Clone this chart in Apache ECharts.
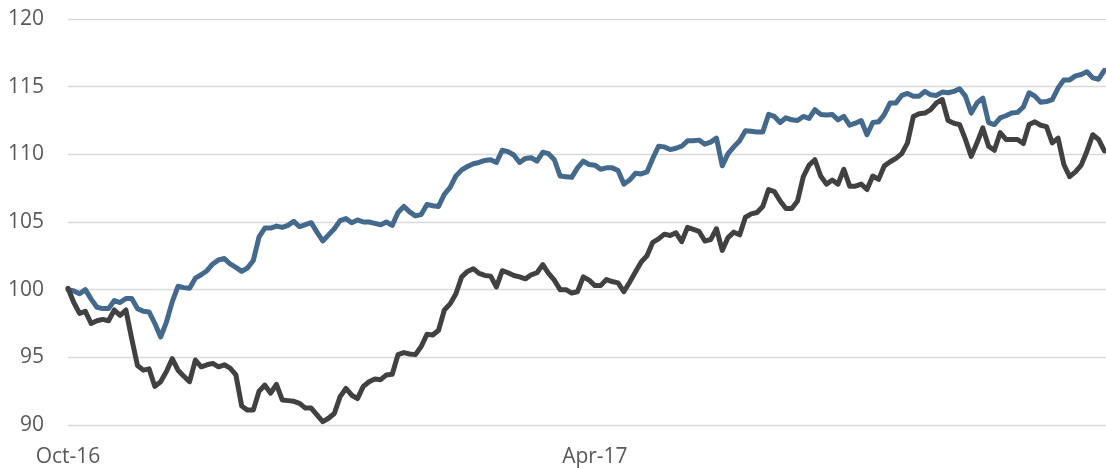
<!DOCTYPE html>
<html>
<head>
<meta charset="utf-8">
<script src="https://cdn.jsdelivr.net/npm/echarts@6/dist/echarts.min.js"></script>
<style>
  html, body { margin: 0; padding: 0; background: #fff; }
  #chart { width: 1106px; height: 468px; }
</style>
</head>
<body>
<div id="chart"></div>
<script>
  // x labels, one every 91 samples
  const tickLabels = ['Oct-16', 'Apr-17'];
  const labelStep = 91;

  const blueValues = [
    100.0, 99.9, 99.7, 100.0, 99.3, 98.7, 98.6, 98.6, 99.2, 99.05,
    99.35, 99.35, 98.6, 98.4, 98.35, 97.5, 96.5, 97.6, 99.1, 100.25,
    100.15, 100.1, 100.85, 101.1, 101.4, 101.9, 102.2, 102.3, 101.9, 101.65,
    101.35, 101.6, 102.15, 103.9, 104.55, 104.55, 104.7, 104.6, 104.75, 105.05,
    104.65, 104.8, 104.95, 104.25, 103.6, 104.05, 104.5, 105.1, 105.25, 104.95,
    105.15, 105.0, 105.0, 104.9, 104.8, 105.0, 104.75, 105.7, 106.15, 105.75,
    105.45, 105.55, 106.3, 106.2, 106.15, 107.05, 107.55, 108.4, 108.85, 109.1,
    109.3, 109.4, 109.55, 109.6, 109.4, 110.3, 110.2, 109.95, 109.4, 109.7,
    109.75, 109.5, 110.15, 110.05, 109.6, 108.4, 108.35, 108.3, 109.0, 109.5,
    109.25, 109.2, 108.9, 109.0, 109.0, 108.8, 107.8, 108.1, 108.6, 108.55,
    108.7, 109.7, 110.6, 110.55, 110.35, 110.45, 110.6, 111.0, 111.0, 111.05,
    110.75, 110.9, 111.2, 109.15, 110.05, 110.55, 111.0, 111.75, 111.7, 111.65,
    111.65, 112.95, 112.8, 112.35, 112.7, 112.55, 112.5, 112.8, 112.65, 113.3,
    112.95, 112.9, 112.95, 112.55, 112.8, 112.15, 112.3, 112.5, 111.45, 112.35,
    112.4, 112.95, 113.8, 113.8, 114.35, 114.5, 114.3, 114.3, 114.65, 114.4,
    114.35, 114.6, 114.55, 114.65, 114.85, 114.3, 113.05, 113.8, 114.15, 112.35,
    112.2, 112.7, 112.85, 113.05, 113.1, 113.5, 114.55, 114.3, 113.85, 113.9,
    114.05, 114.9, 115.5, 115.5, 115.8, 115.9, 116.1, 115.65, 115.55, 116.2
  ];
  const grayValues = [
    100.1, 99.05, 98.25, 98.4, 97.5, 97.7, 97.8, 97.7, 98.5, 98.1,
    98.5, 96.4, 94.4, 94.05, 94.15, 92.85, 93.2, 93.95, 94.9, 94.05,
    93.6, 93.2, 94.8, 94.3, 94.45, 94.55, 94.3, 94.45, 94.2, 93.7,
    91.4, 91.1, 91.1, 92.5, 92.95, 92.35, 93.0, 91.85, 91.8, 91.75,
    91.6, 91.25, 91.25, 90.75, 90.25, 90.5, 90.85, 92.1, 92.7, 92.2,
    91.95, 92.85, 93.2, 93.4, 93.35, 93.7, 93.75, 95.2, 95.35, 95.25,
    95.2, 95.8, 96.7, 96.65, 97.0, 98.5, 98.95, 99.7, 100.95, 101.35,
    101.55, 101.2, 101.05, 101.0, 100.2, 101.4, 101.25, 101.05, 100.95, 100.8,
    101.1, 101.25, 101.85, 101.2, 100.7, 100.0, 100.0, 99.75, 99.85, 100.95,
    100.7, 100.3, 100.3, 100.75, 100.6, 100.5, 99.85, 100.55, 101.3, 102.05,
    102.5, 103.5, 103.75, 104.1, 104.0, 104.2, 103.55, 104.6, 104.45, 104.3,
    103.6, 103.7, 104.5, 102.9, 103.85, 104.25, 104.05, 105.35, 105.6, 105.7,
    106.15, 107.4, 107.25, 106.55, 106.0, 106.0, 106.55, 108.35, 109.2, 109.6,
    108.4, 107.8, 108.1, 107.8, 108.9, 107.65, 107.65, 107.8, 107.4, 108.4,
    108.15, 109.15, 109.45, 109.7, 110.05, 110.85, 112.8, 113.0, 113.05, 113.3,
    113.8, 114.05, 112.5, 112.3, 112.2, 111.1, 109.85, 110.85, 111.95, 110.6,
    110.3, 111.6, 111.1, 111.1, 111.1, 110.8, 112.2, 112.4, 112.15, 112.05,
    110.85, 111.2, 109.25, 108.35, 108.7, 109.2, 110.25, 111.45, 111.1, 110.25
  ];

  const toPoints = arr => arr.map((v, i) => [i, v]);

  const chart = echarts.init(document.getElementById('chart'));
  chart.setOption({
    animation: false,
    grid: { left: 68, right: 0, top: 19, bottom: 41 },
    xAxis: {
      type: 'value',
      min: 0,
      max: 179.28,
      interval: labelStep,
      axisLine: { show: false },
      axisTick: { show: false },
      splitLine: { show: false },
      axisLabel: {
        showMaxLabel: false,
        margin: 22,
        color: '#595959',
        fontSize: 21,
        fontFamily: 'Open Sans',
        formatter: v => {
          const k = Math.round(v / labelStep);
          return (k * labelStep === v && tickLabels[k]) ? tickLabels[k] : '';
        }
      }
    },
    yAxis: {
      type: 'value',
      min: 90,
      max: 120,
      interval: 5,
      axisLine: { show: false },
      axisTick: { show: false },
      axisLabel: { margin: 24, color: '#595959', fontSize: 21, fontFamily: 'Open Sans' },
      splitLine: { lineStyle: { color: '#d9d9d9', width: 1.3 } }
    },
    series: [
      {
        name: 'blue',
        type: 'line',
        data: toPoints(blueValues),
        showSymbol: false,
        lineStyle: { color: '#43698d', width: 5, join: 'round', cap: 'round' }
      },
      {
        name: 'gray',
        type: 'line',
        data: toPoints(grayValues),
        showSymbol: false,
        lineStyle: { color: '#414141', width: 5, join: 'round', cap: 'round' }
      }
    ]
  });
</script>
</body>
</html>
